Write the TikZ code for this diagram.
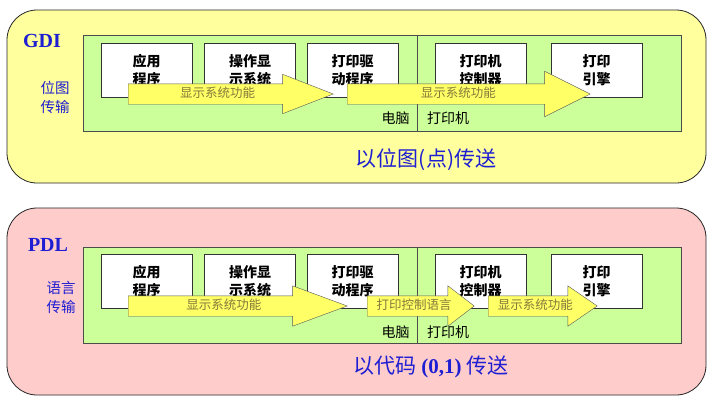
\documentclass[tikz,border=0pt]{standalone}
\usepackage{fontspec}
\setmainfont{Liberation Serif}
\newfontfamily\cjk{Noto Sans CJK SC}
\usetikzlibrary{shapes.arrows}
\definecolor{gdiyellow}{HTML}{FFFF9E}
\definecolor{pdlpink}{HTML}{FFCCCC}
\definecolor{hostgreen}{HTML}{CCFF99}
\definecolor{arrowyellow}{HTML}{FFFF66}
\definecolor{arrowtext}{HTML}{857A3A}
\definecolor{sideblue}{HTML}{1E1ED2}
\begin{document}
\begin{tikzpicture}[x=1pt,y=-1pt,
  panel/.style={draw=black!85, rounded corners=30pt, line width=0.8pt, minimum width=699pt},
  hostbox/.style={draw=black!70, fill=hostgreen, line width=0.6pt, minimum width=598pt, minimum height=96pt},
  unit/.style={draw=black!80, fill=white, line width=0.6pt, minimum width=91pt, minimum height=54pt, align=center, font=\cjk\bfseries\fontsize{14}{18}\selectfont},
  flow/.style={single arrow, draw=black!65, fill=arrowyellow, anchor=tail, text=arrowtext, font=\cjk\fontsize{12.5}{12.5}\selectfont, text height=9pt, text depth=3pt, inner ysep=4pt, inner xsep=2pt, minimum width=0pt},
  side/.style={text=sideblue, align=center, font=\cjk\fontsize{14.5}{19}\selectfont},
  title/.style={text=sideblue, font=\bfseries\fontsize{20}{20}\selectfont},
  bigtext/.style={text=sideblue, font=\cjk\fontsize{21}{21}\selectfont},
  part/.style={font=\cjk\fontsize{14}{14}\selectfont}]
\useasboundingbox (0,0) rectangle (715,402);

\node[panel, fill=gdiyellow, minimum height=173pt] (gdipanel) at (356.5,96.5) {};
\node[hostbox] (gdihost) at (382,83) {};
\draw[black!70, line width=0.6pt] (gdihost.north -| 417,0) -- (gdihost.south -| 417,0);

\node[title] (gditag) at (42,41) {GDI};
\node[side] (gdiside) at (55,97.5) {位图\\传输};

\node[unit] (gdiapp) at (146.5,70) {应用\\程序};
\node[unit] (gdios) at (250,70) {操作显\\示系统};
\node[unit] (gdidrv) at (352.5,70) {打印驱\\动程序};
\node[unit] (gdictl) at (480.5,70) {打印机\\控制器};
\node[unit] (gdieng) at (596.5,70) {打印\\引擎};

\node[flow, minimum height=205pt, single arrow head extend=9.5pt, single arrow tip angle=42.6] (gdiflowa) at (128,94) {显示系统功能};
\node[flow, minimum height=243pt, single arrow head extend=12.5pt, single arrow tip angle=53] (gdiflowb) at (347,94) {显示系统功能};

\node[part] (gdipc) at (395.5,118) {电脑};
\node[part] (gdiprn) at (448,118) {打印机};
\node[bigtext] (gdinote) at (426,160) {以位图(点)传送};

\node[panel, fill=pdlpink, minimum height=187pt] (pdlpanel) at (356.5,301.5) {};
\node[hostbox] (pdlhost) at (382,295.5) {};
\draw[black!70, line width=0.6pt] (pdlhost.north -| 417,0) -- (pdlhost.south -| 417,0);

\node[title] (pdltag) at (48,245) {PDL};
\node[side] (pdlside) at (61,297) {语言\\传输};

\node[unit] (pdlapp) at (146.5,281.5) {应用\\程序};
\node[unit] (pdlos) at (250,281.5) {操作显\\示系统};
\node[unit] (pdldrv) at (352.5,281.5) {打印驱\\动程序};
\node[unit] (pdlctl) at (480.5,281.5) {打印机\\控制器};
\node[unit] (pdleng) at (596.5,281.5) {打印\\引擎};

\node[flow, minimum height=219pt, single arrow head extend=10pt, single arrow tip angle=40.6] (pdlflowa) at (128,306) {显示系统功能};
\node[flow, minimum height=107pt, single arrow head extend=10pt, single arrow tip angle=75] (pdlflowb) at (367,306) {打印控制语言};
\node[flow, minimum height=109pt, single arrow head extend=10pt, single arrow tip angle=69] (pdlflowc) at (488,306) {显示系统功能};

\node[part] (pdlpc) at (395.5,332) {电脑};
\node[part] (pdlprn) at (448,332) {打印机};
\node[bigtext] (pdlnote) at (431,367) {以代码 {\rmfamily\bfseries (0,1)} 传送};
\end{tikzpicture}
\end{document}
